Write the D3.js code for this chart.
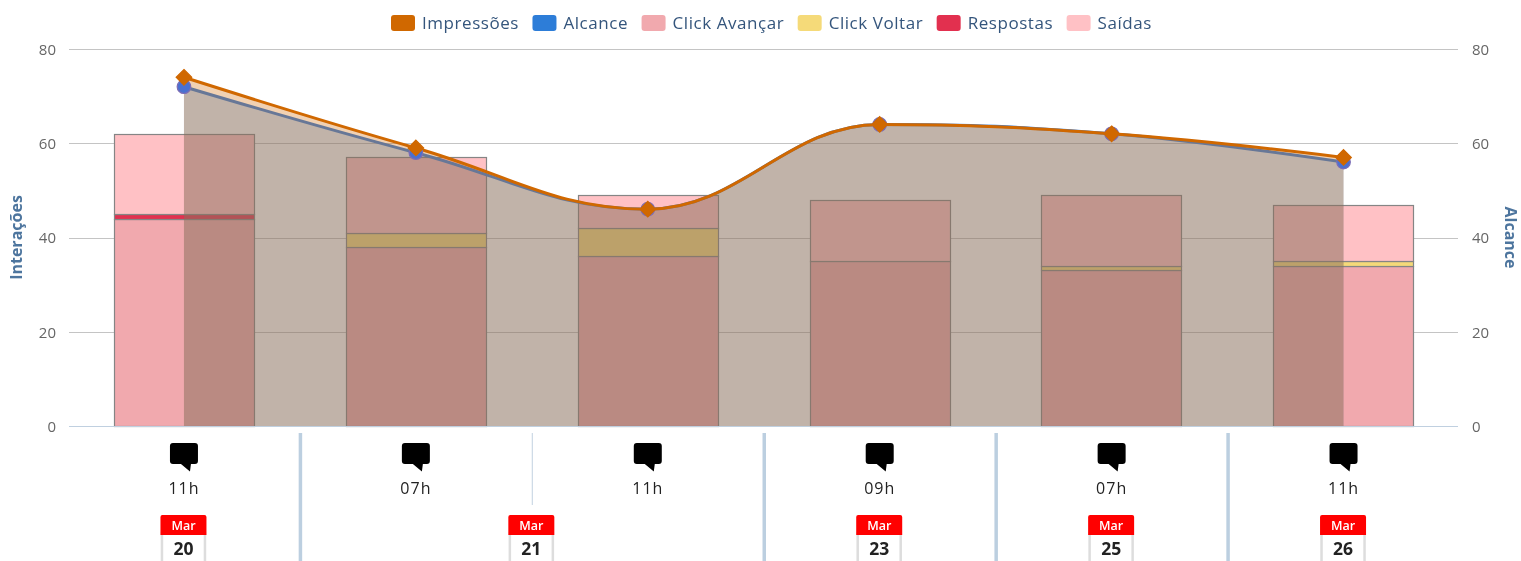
<!DOCTYPE html>
<html><head><meta charset="utf-8">
<script src="https://cdn.jsdelivr.net/npm/d3@7"></script>
<style>html,body{margin:0;padding:0;background:#fff;overflow:hidden}svg{display:block;font-family:"Open Sans",sans-serif;filter:blur(0.5px)}</style>
</head><body><div id="chart"></div>
<script>
const categories = ["a","b","c","d","e","f"];
const hours = ["11h","07h","11h","09h","07h","11h"];
const dayLabels = ["20","21","23","25","26"];
const monthLabel = "Mar";
const groupSpans = [1,2,1,1,1];
const impressoes = [74,59,46,64,62,57];
const alcance = [72,58,46,64,62,56];
const clickAvancar = [44,38,36,35,33,34];
const clickVoltar = [0,3,6,0,1,1];
const respostas = [1,0,0,0,0,0];
const saidas = [17,16,7,13,15,12];
const legendNames = ["Impressões","Alcance","Click Avançar","Click Voltar","Respostas","Saídas"];
const legendColors = ["#d06800","#2d7dd8","#f1a9ae","#f5da79","#e2304f","#ffc1c5"];
const yTicks = [0,20,40,60,80];

const W=1521,H=561,L=69,R=1458,T=49,B=426,XL=68,XR=1459.5;
const svg=d3.select("#chart").append("svg").attr("width",W).attr("height",H);
const x=d3.scaleBand().domain(categories).range([XL,XR]).paddingInner(0.395).paddingOuter(0.1975);
const y=d3.scaleLinear().domain([0,80]).range([B,T]);
const cx=c=>x(c)+x.bandwidth()/2;
const step=x.step();

// grid
svg.append("g").selectAll("line").data(yTicks.slice(1)).join("line")
  .attr("x1",L).attr("x2",R).attr("y1",d=>Math.round(y(d))+.5).attr("y2",d=>Math.round(y(d))+.5)
  .attr("stroke","#c4c4c4");

// axes
const tickFont=g=>g.call(s=>s.select(".domain").remove()).call(s=>s.selectAll("line").remove())
  .call(s=>s.selectAll("text").attr("fill","#666").attr("dy","0.36em").style("font-size","15px").style("font-family","'Open Sans',sans-serif"));
svg.append("g").attr("transform",`translate(${L-3},0)`).call(d3.axisLeft(y).tickValues(yTicks).tickSize(0).tickPadding(10)).call(tickFont);
svg.append("g").attr("transform",`translate(${R+3},0)`).call(d3.axisRight(y).tickValues(yTicks).tickSize(0).tickPadding(11)).call(tickFont);

svg.append("text").attr("transform",`translate(22,${(T+B)/2}) rotate(-90)`)
  .attr("text-anchor","middle").attr("fill","#4d759e").style("font-weight",700).style("font-size","16px").text("Interações");
svg.append("text").attr("transform",`translate(1505,${(T+B)/2}) rotate(90)`).attr("text-anchor","middle")
  .attr("fill","#4d759e").style("font-weight",700).style("font-size","16px").text("Alcance");

// stacked columns
const stackKeys=[0,1,2,3];
const stackVals=[clickAvancar,clickVoltar,respostas,saidas];
const stackCols=[legendColors[2],legendColors[3],legendColors[4],legendColors[5]];
categories.forEach((c,i)=>{
  let acc=0;
  stackKeys.forEach(k=>{
    const v=stackVals[k][i];
    if(v>0){
      svg.append("rect").attr("x",Math.round(x(c))+.5).attr("width",Math.round(x.bandwidth()))
        .attr("y",Math.round(y(acc+v))+.5).attr("height",Math.round(y(acc))-Math.round(y(acc+v)))
        .attr("fill",stackCols[k]).attr("stroke","#858585").attr("stroke-width",1.2);
    }
    acc+=v;
  });
});

// spline curve with control points placed the way the original chart library does
function SplineCurve(ctx){this._c=ctx;}
SplineCurve.prototype={
  areaStart(){this._area=true;},areaEnd(){this._area=false;},
  lineStart(){this._p=[];},
  point(a,b){this._p.push([+a,+b]);},
  lineEnd(){
    const p=this._p,c=this._c,s=1.5,d=2.5;
    const conts=(i)=>{
      const [px,py]=p[i],[lx,ly]=p[i-1],[nx,ny]=p[i+1];
      let lcx=(s*px+lx)/d,lcy=(s*py+ly)/d,rcx=(s*px+nx)/d,rcy=(s*py+ny)/d;
      const cor=((rcy-lcy)*(rcx-px))/(rcx-lcx)+py-rcy;
      lcy+=cor;rcy+=cor;
      if(lcy>ly&&lcy>py){lcy=Math.max(ly,py);rcy=2*py-lcy;}
      else if(lcy<ly&&lcy<py){lcy=Math.min(ly,py);rcy=2*py-lcy;}
      if(rcy>ny&&rcy>py){rcy=Math.max(ny,py);lcy=2*py-rcy;}
      else if(rcy<ny&&rcy<py){rcy=Math.min(ny,py);lcy=2*py-rcy;}
      return {l:[lcx,lcy],r:[rcx,rcy]};
    };
    if(this._area) c.lineTo(p[0][0],p[0][1]); else c.moveTo(p[0][0],p[0][1]);
    for(let i=1;i<p.length;i++){
      const a=i>1?conts(i-1).r:p[0];
      const b=i<p.length-1?conts(i).l:p[i];
      c.bezierCurveTo(a[0],a[1],b[0],b[1],p[i][0],p[i][1]);
    }
  }
};
const spline=ctx=>new SplineCurve(ctx);

function drawArea(vals,col,lineCol,alpha){
  const pts=vals.map((v,i)=>[cx(categories[i]),v]);
  const path=d3.line().x(d=>d[0]).y(d=>y(d[1])).curve(spline)(pts);
  const area=path+`L${pts[pts.length-1][0]},${y(0)}L${pts[0][0]},${y(0)}Z`;
  svg.append("path").attr("d",area).attr("fill",col).attr("fill-opacity",alpha);
  svg.append("path").attr("d",path).attr("fill","none").attr("stroke",lineCol).attr("stroke-width",3);
}
function drawMarkers(vals,type,fill,stroke,size){
  svg.append("g").selectAll("path").data(vals).join("path")
    .attr("transform",(d,i)=>`translate(${cx(categories[i])},${y(d)})`)
    .attr("d",d3.symbol().type(type).size(size)()).attr("fill",fill).attr("stroke",stroke).attr("stroke-width",1.2);
}
const diamond={draw(c,s){const r=Math.sqrt(s)/1.414*1.1;c.moveTo(0,-r);c.lineTo(r,0);c.lineTo(0,r);c.lineTo(-r,0);c.closePath();}};
drawArea(alcance,legendColors[1],"#3a7fd8",0.33);
drawArea(impressoes,legendColors[0],legendColors[0],0.30);
drawMarkers(alcance,d3.symbolCircle,"#4a70d0","#7c6db5",145);
drawMarkers(impressoes,diamond,legendColors[0],legendColors[0],100);

// x axis line
svg.append("line").attr("x1",L).attr("x2",R).attr("y1",B+.5).attr("y2",B+.5).attr("stroke","#c0d0e0");

// category labels
const bubble="M-11,-14H11Q14,-14 14,-11V4Q14,7 11,7H7L6,14.5L-3,7H-11Q-14,7 -14,4V-11Q-14,-14 -11,-14Z";
categories.forEach((c,i)=>{
  const g=svg.append("g").attr("transform",`translate(${cx(c)},0)`);
  g.append("path").attr("d",bubble).attr("transform","translate(0,457)").attr("fill","#000");
  g.append("text").attr("y",493.5).attr("text-anchor","middle").attr("fill","#222")
    .style("font-size","16px").style("letter-spacing","1px").text(hours[i]);
});
// group separators and calendars
let start=0;
groupSpans.forEach((n,gi)=>{
  const first=start,last=start+n-1;
  const mid=(cx(categories[first])+cx(categories[last]))/2;
  if(gi<groupSpans.length-1){
    const sx=XL+step*(last+1)+.5;
    svg.append("line").attr("x1",sx).attr("x2",sx).attr("y1",433).attr("y2",H).attr("stroke","#bccfe0").attr("stroke-width",3.5);
  }
  for(let k=first;k<last;k++){
    const sx=XL+step*(k+1)+.5;
    svg.append("line").attr("x1",sx).attr("x2",sx).attr("y1",433).attr("y2",505).attr("stroke","#ccd9e6").attr("stroke-width",1.2);
  }
  const g=svg.append("g").attr("transform",`translate(${mid-.5},0)`);
  g.append("rect").attr("x",-21.5).attr("y",533).attr("width",43).attr("height",30).attr("fill","#fff").attr("stroke","#ddd").attr("stroke-width",2.5);
  g.append("path").attr("d","M-23,535V517Q-23,515 -21,515H21Q23,515 23,517V535Z").attr("fill","#f00");
  g.append("text").attr("y",530).attr("text-anchor","middle").attr("fill","#fff").style("font-size","12.5px").style("font-weight",600).text(monthLabel);
  g.append("text").attr("y",555).attr("text-anchor","middle").attr("fill","#222").style("font-size","17.5px").style("font-weight",700).text(dayLabels[gi]);
  start+=n;
});

// legend
const lg=svg.append("g");
let lx=0;
legendNames.forEach((n,i)=>{
  const it=lg.append("g").attr("transform",`translate(${lx},0)`);
  it.append("rect").attr("x",0).attr("y",15).attr("width",24).attr("height",16).attr("rx",3).attr("fill",legendColors[i]);
  const t=it.append("text").attr("x",31).attr("y",29).attr("fill","#34557c").style("font-size","17px").style("letter-spacing","0.55px").text(n);
  lx+=31+t.node().getComputedTextLength()+13.5;
});
lg.attr("transform",`translate(391,0)`);
</script></body></html>
